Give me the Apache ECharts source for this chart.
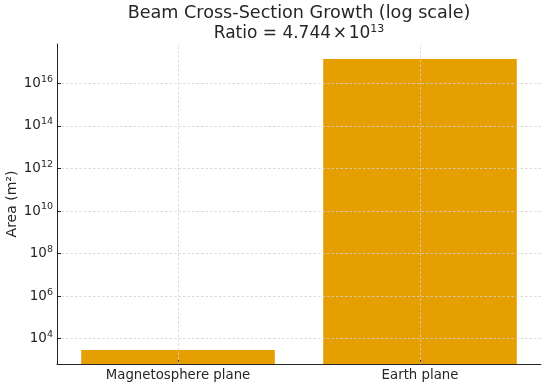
<!DOCTYPE html>
<html><head><meta charset="utf-8">
<script src="https://cdn.jsdelivr.net/npm/echarts@6/dist/echarts.min.js"></script>
<style>html,body{margin:0;padding:0;background:#fff}#c{width:550px;height:387px}</style>
</head><body><div id="c"></div>
<script>
const categories = ['Magnetosphere plane', 'Earth plane'];
const areas = [2.95e3, 1.4e17];
const titleLine1 = 'Beam Cross-Section Growth (log scale)';
const ratioMantissa = '4.744';
const ratioExponent = '13';
const yLabel = 'Area (m²)';
// visible data range of the plot (log10 units)
const yMinExp = 2.81, yMaxExp = 17.85;
// tick axis: even powers of ten
const tickMinExp = 2, tickMaxExp = 18, tickStepExp = 2;

const FONT = 'DejaVu Sans';
const TXT = '#262626';
const GRID = {color: '#d2d2d2', type: [2.5, 2], width: 0.8};

// pixel layout of the plot box
const L = 57, R = 9, T = 44, B = 23, H = 387;
const pxPerDec = (H - T - B) / (yMaxExp - yMinExp);
const t2 = T - (tickMaxExp - yMaxExp) * pxPerDec;
const b2 = B - (yMinExp - tickMinExp) * pxPerDec;

const chart = echarts.init(document.getElementById('c'), null, {renderer: 'canvas'});
chart.setOption({
  animation: false,
  title: {
    text: '{t|' + titleLine1 + '}\n{a|Ratio = ' + ratioMantissa + '\u200A×\u200A10}{s|' + ratioExponent + '}',
    left: 294, top: -1, textAlign: 'center',
    textStyle: {
      fontFamily: FONT, fontSize: 17.5, fontWeight: 'normal', color: TXT, lineHeight: 19.5,
      rich: {
        t: {fontFamily: FONT, fontSize: 17.6, color: TXT, lineHeight: 19.5},
        a: {fontFamily: FONT, fontSize: 17, color: TXT, lineHeight: 19.5},
        s: {fontFamily: FONT, fontSize: 11, color: TXT, verticalAlign: 'top', lineHeight: 12, padding: [0,0,6,0]}
      }
    }
  },
  grid: [
    {left: L, right: R, top: T, bottom: B, outerBoundsMode: 'none', containLabel: false},
    {left: L, right: R, top: t2, bottom: b2, outerBoundsMode: 'none', containLabel: false}
  ],
  xAxis: [{
    type: 'category', data: categories, gridIndex: 0,
    axisLine: {lineStyle: {color: TXT, width: 1}},
    axisTick: {show: true, alignWithLabel: true, inside: true, length: 4, lineStyle: {color: TXT}},
    axisLabel: {fontFamily: FONT, fontSize: 13.3, color: TXT, margin: 5},
    splitLine: {show: false},
    z: 3
  }, {
    type: 'category', data: categories, gridIndex: 1, show: false
  }],
  yAxis: [{
    type: 'log', logBase: 10, gridIndex: 0,
    min: Math.pow(10, yMinExp), max: Math.pow(10, yMaxExp),
    name: yLabel, nameLocation: 'middle', nameGap: 38,
    nameTextStyle: {fontFamily: FONT, fontSize: 14, color: TXT},
    axisLine: {show: true, lineStyle: {color: TXT, width: 1}},
    axisTick: {show: false}, axisLabel: {show: false}, splitLine: {show: false},
    z: 4
  }, {
    type: 'log', logBase: 10, gridIndex: 1,
    min: Math.pow(10, tickMinExp), max: Math.pow(10, tickMaxExp), interval: tickStepExp,
    axisLine: {show: false},
    axisTick: {show: true, inside: true, length: 4, lineStyle: {color: TXT}},
    axisLabel: {
      showMinLabel: false, showMaxLabel: false, margin: 4,
      formatter: function (v) {
        const e = Math.round(Math.log10(v));
        return '{b|10}{s|' + e + '}';
      },
      rich: {
        b: {fontFamily: FONT, fontSize: 13.5, color: TXT},
        s: {fontFamily: FONT, fontSize: 9.5, color: TXT, verticalAlign: 'top', padding: [0,0,8,0]}
      }
    },
    splitLine: {show: true, showMinLine: false, showMaxLine: false, lineStyle: GRID},
    z: 3
  }],
  series: [{
    type: 'bar', data: areas, barWidth: '80%', xAxisIndex: 0, yAxisIndex: 0,
    itemStyle: {color: '#E69F00'}, z: 2,
    markLine: {
      silent: true, symbol: ['none', 'none'], label: {show: false},
      lineStyle: GRID, animation: false,
      data: categories.map(c => ({xAxis: c}))
    }
  }]
});
</script></body></html>
